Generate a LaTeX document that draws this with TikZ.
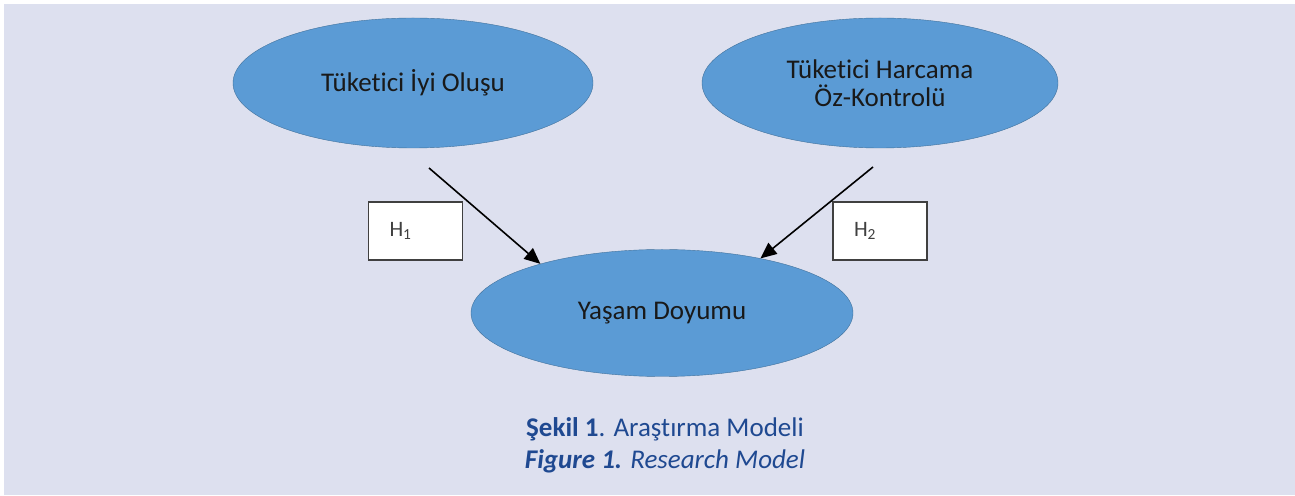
\documentclass[tikz,border=0pt]{standalone}
\usepackage{fontspec}
\setmainfont{Carlito}[Ligatures={NoCommon}]
\usetikzlibrary{shapes.geometric,arrows.meta}
\definecolor{bglav}{RGB}{221,224,239}
\definecolor{varfill}{RGB}{91,155,213}
\definecolor{varline}{RGB}{65,113,156}
\definecolor{capblue}{RGB}{31,73,145}
\begin{document}
\begin{tikzpicture}[x=1pt,y=1pt,
  var/.style={draw=varline, fill=varfill, ellipse, inner sep=0pt, align=center, text=black!90, font=\fontsize{27}{28}\selectfont},
  hyp/.style={draw=black!75, fill=white, line width=1.2pt, minimum height=58pt, text width=52pt, inner xsep=21pt, align=left, text=black!75, font=\fontsize{22}{24}\selectfont},
  link/.style={draw, line width=1.6pt, -{Triangle[length=16pt,width=14pt]}}]
\useasboundingbox (0,0) rectangle (1295,495);
\fill[white] (0,0) rectangle (1295,495);
\fill[bglav] (4,0) rectangle (1295,491);

\node[var, minimum width=360pt, minimum height=130pt] (1) at (413,412) {Tüketici İyi Oluşu};
\node[var, minimum width=356pt, minimum height=130pt] (2) at (880,412) {Tüketici Harcama\\Öz-Kontrolü};
\node[var, minimum width=382pt, minimum height=127pt] (3) at (662,182) {Yaşam Doyumu};

\node[hyp] (h1) at (415.5,264) {H\textsubscript{1}};
\node[hyp] (h2) at (880,264) {H\textsubscript{2}};

\coordinate (s1) at (429,327);
\coordinate (s2) at (873,328);
\path[link] (s1) -- (3.158);
\path[link] (s2) -- (3.29);

\node[text=capblue, font=\fontsize{27}{30}\selectfont, anchor=base] (cap1) at (665,58) {\textbf{Şekil 1}. Araştırma Modeli};
\node[text=capblue, font=\fontsize{27}{30}\selectfont\itshape, anchor=base] (cap2) at (665,27) {\textbf{Figure 1.} Research Model};
\end{tikzpicture}
\end{document}
